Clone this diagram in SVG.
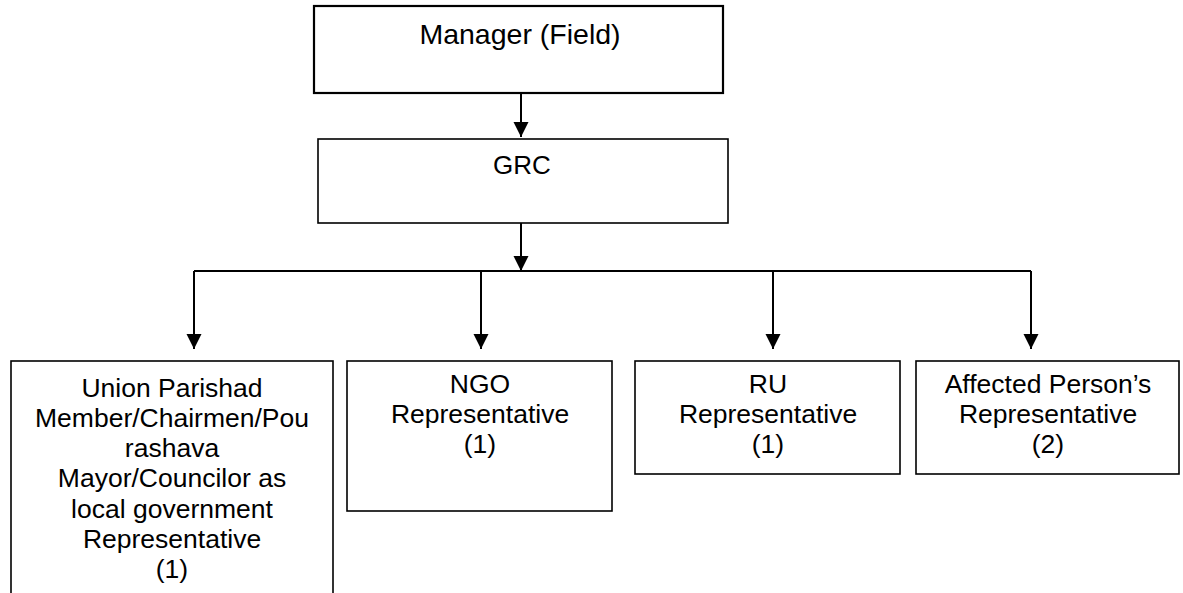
<svg xmlns="http://www.w3.org/2000/svg" width="1183" height="593" viewBox="0 0 1183 593">
<defs>
<style>
.box{fill:#fff;stroke:#000;stroke-width:1.6}
.t{font-family:"Liberation Sans",Arial,sans-serif;font-size:26.5px;fill:#000;text-anchor:middle}
.ln{fill:none;stroke:#000;stroke-width:2}
</style>
<marker id="ah" markerUnits="userSpaceOnUse" markerWidth="16" markerHeight="16" viewBox="0 0 16 16" refX="15" refY="8" orient="auto">
<path d="M0,0.5 L15,8 L0,15.5 Z" fill="#000"/>
</marker>
</defs>
<rect width="1183" height="593" fill="#fff"/>
<g id="connectors">
<line class="ln" x1="521" y1="93" x2="521" y2="137" marker-end="url(#ah)"/>
<line class="ln" x1="521" y1="223" x2="521" y2="271" marker-end="url(#ah)"/>
<line class="ln" x1="194" y1="271" x2="1031" y2="271"/>
<line class="ln" x1="194" y1="271" x2="194" y2="349" marker-end="url(#ah)"/>
<line class="ln" x1="481" y1="271" x2="481" y2="349" marker-end="url(#ah)"/>
<line class="ln" x1="773" y1="271" x2="773" y2="349" marker-end="url(#ah)"/>
<line class="ln" x1="1031" y1="271" x2="1031" y2="349" marker-end="url(#ah)"/>
</g>
<g id="manager">
<rect class="box" x="314" y="6" width="409" height="87" style="stroke-width:2.2"/>
<text class="t" x="520" y="44" style="font-size:28.5px">Manager (Field)</text>
</g>
<g id="grc">
<rect class="box" x="318" y="139" width="410" height="84"/>
<text class="t" x="522" y="174" style="font-size:26px">GRC</text>
</g>
<g id="local-gov">
<rect class="box" x="11" y="361" width="322" height="250"/>
<text class="t" x="172" y="397">Union Parishad</text>
<text class="t" x="172" y="427">Member/Chairmen/Pou</text>
<text class="t" x="172" y="457">rashava</text>
<text class="t" x="172" y="487">Mayor/Councilor as</text>
<text class="t" x="172" y="518">local government</text>
<text class="t" x="172" y="548">Representative</text>
<text class="t" x="172" y="578">(1)</text>
</g>
<g id="ngo">
<rect class="box" x="347" y="361" width="265" height="150"/>
<text class="t" x="480" y="393">NGO</text>
<text class="t" x="480" y="423">Representative</text>
<text class="t" x="480" y="453">(1)</text>
</g>
<g id="ru">
<rect class="box" x="635" y="361" width="265" height="113"/>
<text class="t" x="768" y="393">RU</text>
<text class="t" x="768" y="423">Representative</text>
<text class="t" x="768" y="453">(1)</text>
</g>
<g id="affected">
<rect class="box" x="916" y="361" width="263" height="113"/>
<text class="t" x="1048" y="393">Affected Person’s</text>
<text class="t" x="1048" y="423">Representative</text>
<text class="t" x="1048" y="453">(2)</text>
</g>
</svg>
